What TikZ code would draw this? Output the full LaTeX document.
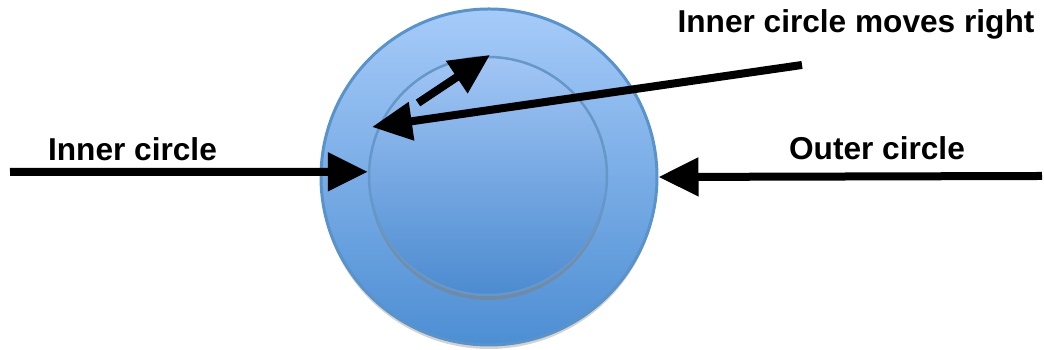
\documentclass[tikz,border=0pt]{standalone}
\usepackage{fontspec}
\setmainfont{Liberation Sans}
\usetikzlibrary{arrows.meta,shadows}

\definecolor{ringtop}{HTML}{A6CBF9}
\definecolor{ringbottom}{HTML}{4D8ED3}
\definecolor{ringedge}{HTML}{5A93C9}
\definecolor{innertop}{HTML}{A2C6F5}
\definecolor{innerbottom}{HTML}{4C8BD0}
\definecolor{inneredge}{HTML}{6598C8}

\tikzset{
  bigarrow/.style={-{Triangle[length=0.4cm,width=0.37cm]}, line width=0.08cm},
  label/.style={font=\fontsize{9}{11}\selectfont\bfseries, anchor=base, inner sep=0pt}
}

\begin{document}
\begin{tikzpicture}

  \useasboundingbox (0,0) rectangle (10.44,3.5);

  % Outer circle
  \node[circle, minimum size=3.36cm, draw=ringedge, line width=0.03cm,
        top color=ringtop, bottom color=ringbottom,
        drop shadow={opacity=0.35, shadow xshift=0cm, shadow yshift=-0.04cm}]
    (outer) at (4.89,1.73) {};

  % Inner circle
  \node[circle, minimum size=2.38cm, draw=inneredge, line width=0.025cm,
        top color=innertop, bottom color=innerbottom,
        drop shadow={opacity=0.55, shadow xshift=0cm, shadow yshift=-0.05cm}]
    (inner) at (4.88,1.74) {};

  % Labels
  \node[label] (lblinner) at (1.325,1.89) {Inner circle};
  \node[label] (lblouter) at (8.77,1.90) {Outer circle};
  \node[label] (lblmove)  at (8.56,3.17) {Inner circle moves right};

  % Arrow ends
  \coordinate (innerstart) at (0.10,1.78);
  \coordinate (outerstart) at (10.42,1.74);
  \coordinate (movestart)  at (8.02,2.85);
  \coordinate (moveend)    at (3.72,2.23);
  \coordinate (shiftstart) at (4.18,2.47);
  \coordinate (shiftend)   at (4.90,2.95);

  % Arrows
  \draw[bigarrow] (innerstart) -- (inner.178);
  \draw[bigarrow] (outerstart) -- (outer.east);
  \draw[bigarrow] (movestart) -- (moveend);
  \draw[bigarrow] (shiftstart) -- (shiftend);

\end{tikzpicture}
\end{document}
